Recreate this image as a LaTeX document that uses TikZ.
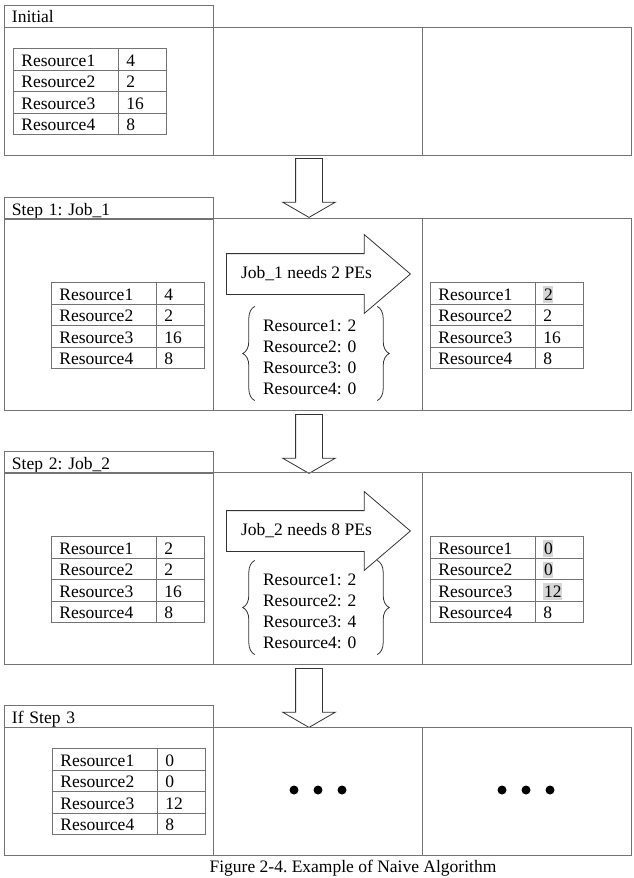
\documentclass[tikz,border=0pt]{standalone}
\usepackage{fontspec}
\setmainfont{Liberation Serif}
\usepackage{xcolor}
\usetikzlibrary{positioning, shapes.arrows, matrix, decorations.pathreplacing, calc}
\frenchspacing

\definecolor{linegray}{gray}{0.45}
\definecolor{arrowgray}{gray}{0.2}
\definecolor{hlgray}{gray}{0.84}
\newcommand{\hlval}[1]{{\setlength{\fboxsep}{0.6pt}\colorbox{hlgray}{\rule[-2pt]{0pt}{15.5pt}#1}}}

\begin{document}
\begin{tikzpicture}[
    x=1pt, y=-1pt,
    every node/.style={font=\fontsize{17.5}{21}\selectfont},
    tab/.style={draw=linegray, line width=0.8pt, outer sep=0pt, anchor=north west, minimum width=209pt, minimum height=22pt, text width=193pt, inner xsep=8pt, inner ysep=0pt, align=left, text height=14pt, text depth=0pt},
    cell/.style={draw=linegray, line width=0.8pt, outer sep=0pt, anchor=north west, minimum width=209pt, minimum height=#1, inner sep=0pt},
    restab/.style={matrix of nodes, anchor=north west, inner sep=0pt, outer sep=0pt, row sep=-0.8pt, column sep=-0.8pt,
      nodes={draw=linegray, line width=0.8pt, minimum height=21.5pt, inner xsep=8pt, inner ysep=0pt, text height=14pt, text depth=0pt, align=left, anchor=center},
      column 1/.style={nodes={text width=89pt}},
      column 2/.style={nodes={text width=32pt}}},
    jobarrow/.style={single arrow, draw=arrowgray, line width=0.8pt, anchor=tail, minimum height=184pt, inner xsep=6pt, inner ysep=12.5pt, text height=12pt, text depth=3pt, single arrow head extend=19pt, single arrow tip angle=81},
    downarrow/.style={single arrow, draw=arrowgray, line width=0.8pt, rotate=-90, anchor=tail, minimum height=59pt, inner sep=13pt, single arrow head extend=13pt, single arrow tip angle=120},
    alloc/.style={align=left, text width=100pt, inner sep=0pt},
    curly/.style={decorate, decoration={brace, amplitude=12pt}, draw=arrowgray, line width=0.8pt},
    dotmark/.style={circle, fill=black, minimum size=9pt, inner sep=0pt},
  ]
  \useasboundingbox (0,0) rectangle (633,878);

  \node[tab] (tab1) at (4,5) {Initial};
  \node[cell=128pt] (c1a) at (4,27) {};
  \node[cell=128pt, right=0pt of c1a] (c1b) {};
  \node[cell=128pt, right=0pt of c1b] (c1c) {};
  \matrix[restab] (t1) at (13,48) {Resource1 & 4\\ Resource2 & 2\\ Resource3 & 16\\ Resource4 & 8\\};

  \node[downarrow] (arr1) at (309,158) {};

  \node[tab] (tab2) at (4,197) {Step 1: Job\_1};
  \node[cell=192pt] (c2a) at (4,218) {};
  \node[cell=192pt, right=0pt of c2a] (c2b) {};
  \node[cell=192pt, right=0pt of c2b] (c2c) {};
  \matrix[restab] (t2a) at (51,282) {Resource1 & 4\\ Resource2 & 2\\ Resource3 & 16\\ Resource4 & 8\\};
  \node[jobarrow] (job1) at (226,274) {Job\_1 needs 2 PEs};
  \node[alloc] (al1) at (313,357) {Resource1: 2\\Resource2: 0\\Resource3: 0\\Resource4: 0};
  \draw[curly] ([shift={(-8,6)}]al1.south west) -- ([shift={(-8,-13)}]al1.north west);
  \draw[curly] ([shift={(14,-13)}]al1.north east) -- ([shift={(14,6)}]al1.south east);
  \matrix[restab] (t2b) at (430,282) {Resource1 & \hlval{2}\\ Resource2 & 2\\ Resource3 & 16\\ Resource4 & 8\\};

  \node[downarrow] (arr2) at (309,414) {};

  \node[tab] (tab3) at (4,451) {Step 2: Job\_2};
  \node[cell=192pt] (c3a) at (4,472) {};
  \node[cell=192pt, right=0pt of c3a] (c3b) {};
  \node[cell=192pt, right=0pt of c3b] (c3c) {};
  \matrix[restab] (t3a) at (51,536) {Resource1 & 2\\ Resource2 & 2\\ Resource3 & 16\\ Resource4 & 8\\};
  \node[jobarrow] (job2) at (226,531) {Job\_2 needs 8 PEs};
  \node[alloc] (al2) at (313,611) {Resource1: 2\\Resource2: 2\\Resource3: 4\\Resource4: 0};
  \draw[curly] ([shift={(-8,6)}]al2.south west) -- ([shift={(-8,-13)}]al2.north west);
  \draw[curly] ([shift={(14,-13)}]al2.north east) -- ([shift={(14,6)}]al2.south east);
  \matrix[restab] (t3b) at (430,536) {Resource1 & \hlval{0}\\ Resource2 & \hlval{0}\\ Resource3 & \hlval{12}\\ Resource4 & 8\\};

  \node[downarrow] (arr3) at (309,668) {};

  \node[tab] (tab4) at (4,705) {If Step 3};
  \node[cell=128pt] (c4a) at (4,727) {};
  \node[cell=128pt, right=0pt of c4a] (c4b) {};
  \node[cell=128pt, right=0pt of c4b] (c4c) {};
  \matrix[restab] (t4) at (52,748) {Resource1 & 0\\ Resource2 & 0\\ Resource3 & 12\\ Resource4 & 8\\};
  \foreach \x [count=\i] in {294,318,342} {\node[dotmark] (dl\i) at (\x,790) {};}
  \foreach \x [count=\i] in {502,526,550} {\node[dotmark] (dr\i) at (\x,790) {};}

  \node (cap) at (353,868) {Figure 2-4. Example of Naive Algorithm};

\end{tikzpicture}
\end{document}
